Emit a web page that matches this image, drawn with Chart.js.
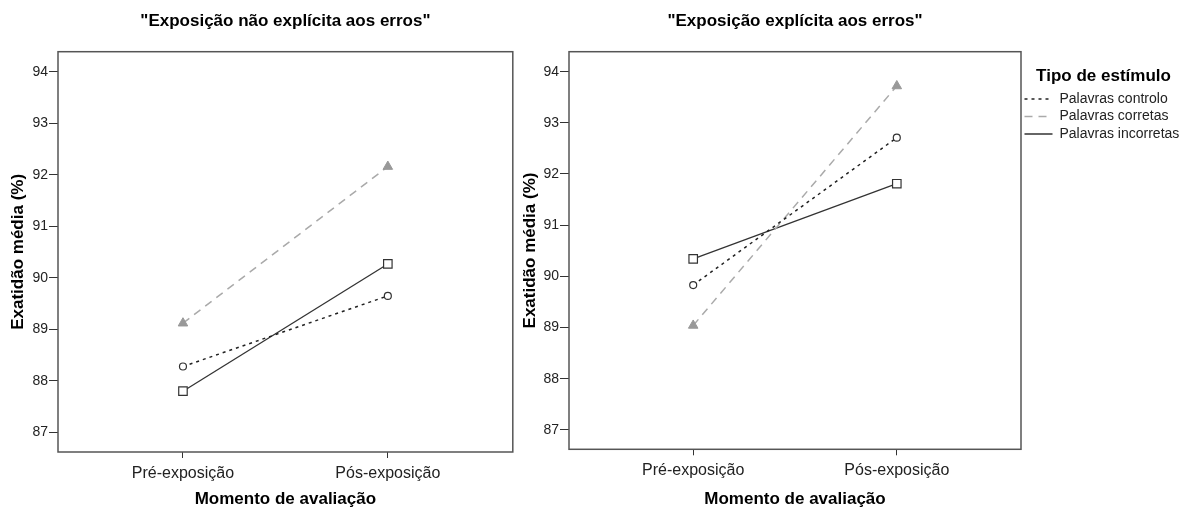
<!DOCTYPE html>
<html>
<head>
<meta charset="utf-8">
<script src="https://cdn.jsdelivr.net/npm/chart.js@4"></script>
<style>
  body { margin: 0; background: #fff; overflow: hidden; }
  #wrap { position: relative; width: 1186px; height: 511px; }
  canvas { position: absolute; top: 0; }
  #left { left: 0; }
  #right { left: 520px; }
</style>
</head>
<body>
<div id="wrap">
  <canvas id="left" width="520" height="511"></canvas>
  <canvas id="right" width="666" height="511"></canvas>
</div>
<script>
// categorias do eixo x
var categories = ['Pré-exposição', 'Pós-exposição'];
var seriesNames = ['Palavras controlo', 'Palavras corretas', 'Palavras incorretas'];
var yTicks = [87, 88, 89, 90, 91, 92, 93, 94];

// "Exposição não explícita aos erros"
var naoExplControlo = [88.28, 89.65];
var naoExplCorretas = [89.12, 92.16];
var naoExplIncorretas = [87.8, 90.27];

// "Exposição explícita aos erros"
var explControlo = [89.83, 92.71];
var explCorretas = [89.04, 93.72];
var explIncorretas = [90.34, 91.81];

Chart.defaults.font.family = "'Liberation Sans', Arial, sans-serif";
Chart.defaults.color = '#222';

const boxBorder = {
  id: 'boxBorder',
  afterDatasetsDraw(chart) {
    const a = chart.chartArea;
    const ctx = chart.ctx;
    ctx.save();
    ctx.strokeStyle = '#555';
    ctx.lineWidth = 1.5;
    ctx.strokeRect(a.left, a.top, a.right - a.left, a.bottom - a.top);
    ctx.restore();
  }
};

function pts(arr) {
  return arr.map(function (v, i) { return { x: i, y: v }; });
}

function makeDatasets(controlo, corretas, incorretas) {
  return [{
    label: seriesNames[0],
    data: pts(controlo),
    borderColor: '#222',
    borderWidth: 1.5,
    borderDash: [3, 4],
    pointStyle: 'circle',
    pointRadius: 3.5,
    pointBackgroundColor: '#fff',
    pointBorderColor: '#333',
    pointBorderWidth: 1.2
  }, {
    label: seriesNames[1],
    data: pts(corretas),
    borderColor: '#aaa',
    borderWidth: 1.5,
    borderDash: [8, 6],
    pointStyle: 'triangle',
    pointRadius: 5.5,
    pointBackgroundColor: '#999',
    pointBorderColor: '#999',
    pointBorderWidth: 1
  }, {
    label: seriesNames[2],
    data: pts(incorretas),
    borderColor: '#333',
    borderWidth: 1.3,
    pointStyle: 'rect',
    pointRadius: 6,
    pointBackgroundColor: '#fff',
    pointBorderColor: '#333',
    pointBorderWidth: 1.2
  }];
}

function makeConfig(title, datasets, yWidth, yTitlePad, xHeight, showLegend) {
  return {
    type: 'line',
    data: { datasets: datasets },
    options: {
      responsive: false,
      animation: false,
      devicePixelRatio: 1,
      layout: { padding: { left: 0, right: showLegend ? 0 : 7, top: 0, bottom: 0 } },
      scales: {
        x: {
          type: 'linear',
          min: -0.61,
          max: 1.61,
          afterFit: function (s) { s.height = xHeight; },
          ticks: {
            stepSize: 1,
            includeBounds: false,
            autoSkip: false,
            maxRotation: 0,
            padding: 5.5,
            font: { size: 16 },
            color: '#222',
            callback: function (v) { return categories[v]; }
          },
          grid: { drawOnChartArea: false, drawTicks: true, tickLength: 6, color: '#333' },
          border: { display: false },
          title: {
            display: true,
            text: 'Momento de avaliação',
            font: { size: 17, weight: 'bold' },
            color: '#000',
            padding: { top: 0, bottom: 1 }
          }
        },
        y: {
          min: 86.62,
          max: 94.39,
          afterFit: function (s) { s.width = yWidth; },
          afterBuildTicks: function (s) { s.ticks = yTicks.map(function (v) { return { value: v }; }); },
          ticks: { stepSize: 1, includeBounds: false, padding: 1, font: { size: 14 }, color: '#222' },
          grid: { drawOnChartArea: false, drawTicks: true, tickLength: 9, color: '#333' },
          border: { display: false },
          title: {
            display: true,
            text: 'Exatidão média (%)',
            font: { size: 17, weight: 'bold' },
            color: '#000',
            padding: { top: yTitlePad, bottom: 0 }
          }
        }
      },
      plugins: {
        title: {
          display: true,
          text: title,
          fullSize: false,
          font: { size: 17, weight: 'bold' },
          color: '#000',
          padding: { top: 11, bottom: 20.3 }
        },
        tooltip: { enabled: false },
        legend: {
          display: showLegend,
          position: 'right',
          align: 'start',
          fullSize: false,
          maxWidth: 165,
          title: {
            display: true,
            text: 'Tipo de estímulo',
            font: { size: 17, weight: 'bold' },
            color: '#000',
            padding: { top: 15.8, bottom: 0.6 }
          },
          labels: {
            usePointStyle: true,
            pointStyleWidth: 28,
            boxHeight: 14,
            padding: 3.5,
            font: { size: 14 },
            color: '#222',
            generateLabels: function (chart) {
              return chart.data.datasets.map(function (ds, i) {
                return {
                  text: ds.label,
                  pointStyle: 'line',
                  strokeStyle: ds.borderColor,
                  fillStyle: ds.borderColor,
                  lineWidth: ds.borderWidth,
                  lineDash: ds.borderDash || [],
                  fontColor: '#222',
                  hidden: false,
                  datasetIndex: i
                };
              });
            }
          }
        }
      }
    },
    plugins: [boxBorder]
  };
}

new Chart(document.getElementById('left'),
  makeConfig('"Exposição não explícita aos erros"',
    makeDatasets(naoExplControlo, naoExplCorretas, naoExplIncorretas), 58, 7.8, 59, false));

new Chart(document.getElementById('right'),
  makeConfig('"Exposição explícita aos erros"',
    makeDatasets(explControlo, explCorretas, explIncorretas), 49, 0, 61.7, true));
</script>
</body>
</html>
